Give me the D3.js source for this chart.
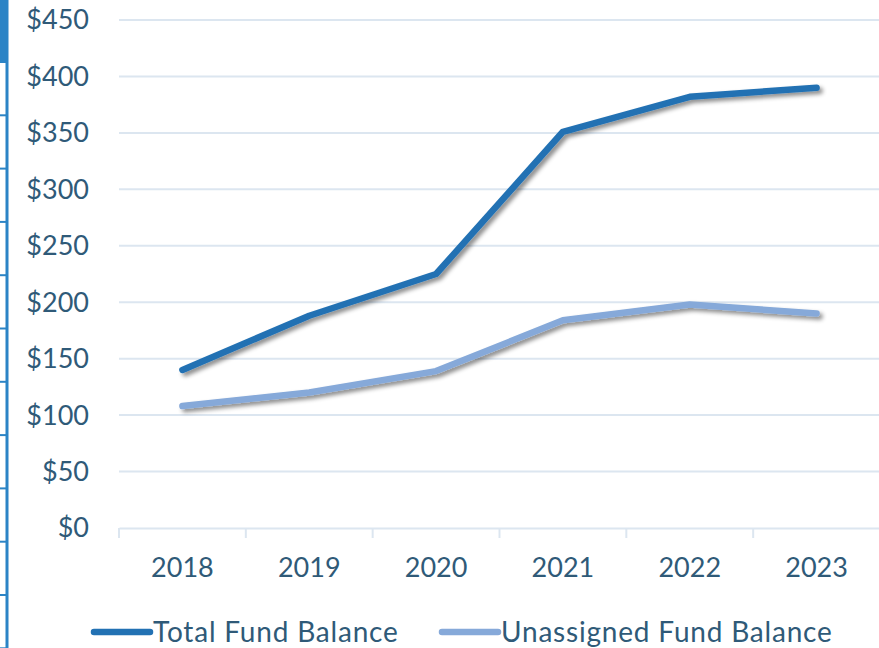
<!DOCTYPE html>
<html>
<head>
<meta charset="utf-8">
<script src="https://cdn.jsdelivr.net/npm/d3@7"></script>
<style>
  body { margin: 0; background: #fff; }
  text { font-family: Lato, "Open Sans", sans-serif; fill: #2f5a78; }
</style>
</head>
<body>
<div class="chart"></div>
<script>
var w = 879;
var h = 648;
var margin = {top: 20, right: -1, bottom: 120, left: 119};

var years = ["2018", "2019", "2020", "2021", "2022", "2023"];
var totalFund = [140, 188, 225, 351, 382, 390];
var unassignedFund = [108, 120, 139, 184, 198, 190];
var yTicks = [0, 50, 100, 150, 200, 250, 300, 350, 400, 450];
var seriesNames = ["Total Fund Balance", "Unassigned Fund Balance"];
var colors = ["#2271b3", "#86a9d9"];

var svg = d3.select(".chart")
            .append("svg")
            .attr("width", w)
            .attr("height", h);

// drop shadow for the lines
var defs = svg.append("defs");
defs.append("filter")
    .attr("id", "shadow")
    .attr("x", "-10%").attr("y", "-10%")
    .attr("width", "120%").attr("height", "130%")
  .append("feDropShadow")
    .attr("dx", 3).attr("dy", 3)
    .attr("stdDeviation", 2)
    .attr("flood-color", "#000")
    .attr("flood-opacity", 0.45);

// blue border bit on the left edge
svg.append("rect").attr("x", 0).attr("y", 0).attr("width", 8).attr("height", 63).attr("fill", "#2b84c6");
svg.append("line").attr("x1", 7).attr("x2", 7).attr("y1", 0).attr("y2", h)
   .attr("stroke", "#2b84c6").attr("stroke-width", 3);
svg.selectAll(".edgeTick")
   .data(d3.range(62, h + 5, 53.3))
   .enter()
   .append("line")
   .attr("x1", 0).attr("x2", 8)
   .attr("y1", (d) => d).attr("y2", (d) => d)
   .attr("stroke", "#2b84c6").attr("stroke-width", 2);

var xScale = d3.scaleBand()
    .domain(years)
    .range([margin.left, w - margin.right]);

var yScale = d3.scaleLinear()
    .domain([0, 450])
    .range([h - margin.bottom, margin.top]);

// gridlines
svg.selectAll(".grid")
   .data(yTicks.slice(1))
   .enter()
   .append("line")
   .attr("x1", margin.left).attr("x2", w)
   .attr("y1", (d) => yScale(d)).attr("y2", (d) => yScale(d))
   .attr("stroke", "#dce6f0").attr("stroke-width", 2);

// y labels
svg.selectAll(".yLabel")
   .data(yTicks)
   .enter()
   .append("text")
   .attr("x", 89)
   .attr("y", (d) => yScale(d))
   .attr("dy", "0.35em")
   .attr("text-anchor", "end")
   .style("font-size", "27px")
   .text((d) => "$" + d);

// x axis
var xAxis = svg.append("g")
   .attr("transform", "translate(0," + yScale(0) + ")")
   .call(d3.axisBottom(xScale).tickSize(0).tickPadding(30));
xAxis.select(".domain").attr("stroke", "#dce6f0").attr("stroke-width", 2);
xAxis.selectAll("text").style("font-size", "27px").attr("fill", "#2f5a78")
     .style("font-family", "Lato, 'Open Sans', sans-serif");
var bounds = years.map((d) => xScale(d)).concat([xScale.range()[1]]);
xAxis.selectAll(".sep")
   .data(bounds)
   .enter()
   .append("line")
   .attr("x1", (d) => d).attr("x2", (d) => d)
   .attr("y1", 0).attr("y2", 10)
   .attr("stroke", "#dce6f0").attr("stroke-width", 2);

// lines
var line = d3.line()
    .x((d, i) => xScale(years[i]) + xScale.bandwidth() / 2)
    .y((d) => yScale(d));

[totalFund, unassignedFund].forEach(function (s, k) {
  svg.append("path")
     .datum(s)
     .attr("d", line)
     .attr("fill", "none")
     .attr("stroke", colors[k])
     .attr("stroke-width", 6.5)
     .attr("stroke-linecap", "round")
     .attr("stroke-linejoin", "round")
     .attr("filter", "url(#shadow)");
});

// legend
var legendX = [94, 442];
seriesNames.forEach(function (name, k) {
  var g = svg.append("g").attr("transform", "translate(" + legendX[k] + ",632)");
  g.append("line")
   .attr("x1", 0).attr("x2", 56)
   .attr("stroke", colors[k]).attr("stroke-width", 6.5)
   .attr("stroke-linecap", "round");
  g.append("text")
   .attr("x", 59)
   .attr("dy", "0.35em")
   .style("font-size", "28px")
   .style("letter-spacing", "0.8px")
   .text(name);
});
</script>
</body>
</html>
